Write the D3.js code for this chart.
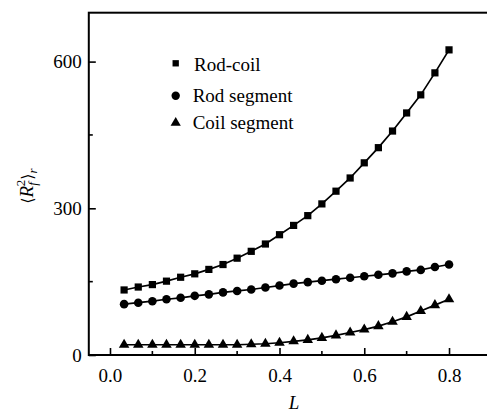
<!DOCTYPE html>
<html>
<head>
<meta charset="utf-8">
<script src="https://cdn.jsdelivr.net/npm/d3@7"></script>
<style>
  html, body { margin: 0; padding: 0; background: #fff; }
  svg { display: block; }
</style>
</head>
<body>
<script>
// ---- data ----
const Lvals = [0.0333, 0.0667, 0.1, 0.1333, 0.1667, 0.2, 0.2333, 0.2667, 0.3, 0.3333, 0.3667, 0.4,
               0.4333, 0.4667, 0.5, 0.5333, 0.5667, 0.6, 0.6333, 0.6667, 0.7, 0.7333, 0.7667, 0.8];
const rodCoil = [133, 139, 144, 151, 159, 166, 175, 185, 198, 212, 227, 246,
                 265, 285, 309, 335, 362, 393, 424, 458, 495, 532, 577, 624];
const rodSegment = [104, 107, 110, 114, 117, 121, 124, 128, 131, 134, 138, 142,
                    146, 149, 152, 155, 158, 161, 164, 167, 171, 174, 180, 185];
const coilSegment = [21, 21, 21, 21, 21, 21, 21, 21, 21, 22, 23, 25,
                     28, 31, 35, 40, 46, 52, 59, 68, 78, 90, 102, 114];
const seriesNames = ["Rod-coil", "Rod segment", "Coil segment"];
const xTicks = [0.0, 0.2, 0.4, 0.6, 0.8];
const xMinor = [0.1, 0.3, 0.5, 0.7];
const yTicks = [0, 300, 600];
const yMinor = [150, 450];

// ---- layout ----
const FONT = "Liberation Serif";
const W = 487, H = 412;
const svg = d3.select("body").append("svg").attr("width", W).attr("height", H)
  .attr("font-family", FONT);

const x = d3.scaleLinear().domain([-0.05, 0.9]).range([88.8, 491.4]);
const y = d3.scaleLinear().domain([0, 700]).range([355, 12.7]);

// frame
svg.append("rect")
  .attr("x", x(-0.05)).attr("y", y(700))
  .attr("width", x(0.9) - x(-0.05)).attr("height", y(0) - y(700))
  .attr("fill", "none").attr("stroke", "#000").attr("stroke-width", 2);

// x axis
const xAxis = svg.append("g").attr("transform", `translate(0,${y(0)})`)
  .call(d3.axisBottom(x).tickValues(xTicks).tickFormat(d3.format(".1f"))
        .tickSizeInner(-7).tickSizeOuter(0).tickPadding(14));
xAxis.attr("font-family", FONT).attr("font-size", 19);
xAxis.select(".domain").remove();
xAxis.selectAll("line").attr("stroke-width", 1.6);
xAxis.selectAll("text").attr("fill", "#000");
svg.append("g").selectAll("line").data(xMinor).join("line")
  .attr("x1", d => x(d)).attr("x2", d => x(d))
  .attr("y1", y(0)).attr("y2", y(0) - 4)
  .attr("stroke", "#000").attr("stroke-width", 1.6);

// y axis
const yAxis = svg.append("g").attr("transform", `translate(${x(-0.05)},0)`)
  .call(d3.axisLeft(y).tickValues(yTicks).tickFormat(d3.format("d"))
        .tickSizeInner(-7).tickSizeOuter(0).tickPadding(7));
yAxis.attr("font-family", FONT).attr("font-size", 19);
yAxis.select(".domain").remove();
yAxis.selectAll("line").attr("stroke-width", 1.6);
yAxis.selectAll("text").attr("fill", "#000");
svg.append("g").selectAll("line").data(yMinor).join("line")
  .attr("x1", x(-0.05)).attr("x2", x(-0.05) + 4)
  .attr("y1", d => y(d)).attr("y2", d => y(d))
  .attr("stroke", "#000").attr("stroke-width", 1.6);

// axis titles
svg.append("text").attr("x", 294).attr("y", 409)
  .attr("text-anchor", "middle").attr("font-size", 19).attr("font-style", "italic").text("L");

const yl = svg.append("text")
  .attr("transform", "translate(33,186) rotate(-90)")
  .attr("text-anchor", "middle").attr("font-size", 19);
yl.append("tspan").attr("font-family", "DejaVu Serif").attr("font-size", 16).text("\u27E8");
yl.append("tspan").attr("font-style", "italic").text("R");
yl.append("tspan").attr("font-style", "italic").attr("font-size", 13).attr("dy", 4).text("f");
yl.append("tspan").attr("font-size", 13).attr("dx", -4).attr("dy", -12).text("2");
yl.append("tspan").attr("font-family", "DejaVu Serif").attr("font-size", 16).attr("dy", 8).text("\u27E9");
yl.append("tspan").attr("font-style", "italic").attr("font-size", 13).attr("dy", 4).text("r");

// series
const seriesData = [rodCoil, rodSegment, coilSegment];
const symbols = [
  d3.symbol().type(d3.symbolSquare).size(52),
  d3.symbol().type(d3.symbolCircle).size(58),
  d3.symbol().type(d3.symbolTriangle).size(48)
];
const line = d3.line().x((d, i) => x(Lvals[i])).y(d => y(d));

seriesData.forEach((vals, s) => {
  svg.append("path").datum(vals).attr("d", line)
    .attr("fill", "none").attr("stroke", "#000").attr("stroke-width", 1.7);
  svg.append("g").selectAll("path").data(vals).join("path")
    .attr("d", symbols[s])
    .attr("transform", (d, i) => `translate(${x(Lvals[i])},${y(d)})`)
    .attr("fill", "#000");
});

// legend
const legendPos = [
  { sx: 175.7, sy: 63.3, tx: 194, ty: 70.7 },
  { sx: 175.7, sy: 95.7, tx: 192.7, ty: 101.7 },
  { sx: 175.7, sy: 122.8, tx: 192.7, ty: 129.3 }
];
const legendSymbols = [
  d3.symbol().type(d3.symbolSquare).size(40),
  d3.symbol().type(d3.symbolCircle).size(55),
  d3.symbol().type(d3.symbolTriangle).size(45)
];
seriesNames.forEach((name, i) => {
  const p = legendPos[i];
  svg.append("path").attr("d", legendSymbols[i])
    .attr("transform", `translate(${p.sx},${p.sy})`).attr("fill", "#000");
  svg.append("text").attr("x", p.tx).attr("y", p.ty).attr("font-size", 19).text(name);
});
</script>
</body>
</html>
